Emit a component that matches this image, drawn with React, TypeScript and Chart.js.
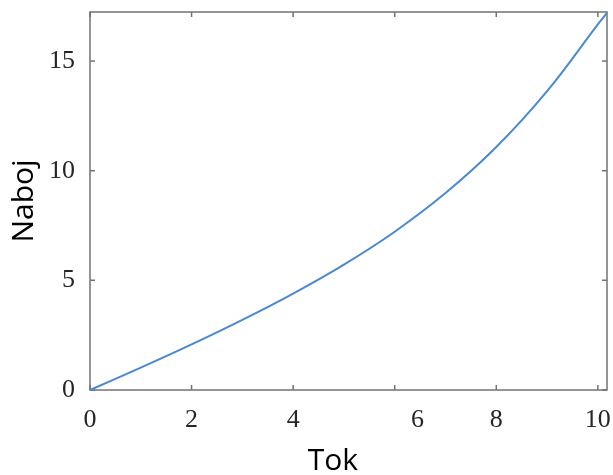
import React, { useEffect, useRef } from 'react';
import { Chart, registerables } from 'chart.js';

Chart.register(...registerables);

// Data
const tokValues = [0, 1, 2, 3, 4, 5, 6, 7, 8, 9, 10, 10.18];
const nabojValues = [0, 1.02, 2.08, 3.2, 4.4, 5.72, 7.22, 8.98, 11.08, 13.63, 16.68, 17.2];
const xTickValues = [0, 2, 4, 6, 8, 10];
const yTickValues = [0, 5, 10, 15];
const xAxisLabel = 'Tok';
const yAxisLabel = 'Naboj';

const AXIS_COLOR = '#737373';
const TICK_TEXT = '#262626';
const LINE_COLOR = '#4a89d0';

const boxTicksPlugin = {
  id: 'boxTicks',
  beforeDatasetsDraw(chart: any) {
    const { ctx, chartArea, scales } = chart;
    const { left, right, top, bottom } = chartArea;
    const len = 5;
    ctx.save();
    ctx.strokeStyle = AXIS_COLOR;
    ctx.lineWidth = 1.5;
    ctx.strokeRect(left, top, right - left, bottom - top);
    ctx.beginPath();
    scales.x.ticks.forEach((t: any) => {
      const px = scales.x.getPixelForValue(t.value);
      ctx.moveTo(px, bottom);
      ctx.lineTo(px, bottom - len);
      ctx.moveTo(px, top);
      ctx.lineTo(px, top + len);
    });
    scales.y.ticks.forEach((t: any) => {
      const py = scales.y.getPixelForValue(t.value);
      ctx.moveTo(left, py);
      ctx.lineTo(left + len, py);
      ctx.moveTo(right, py);
      ctx.lineTo(right - len, py);
    });
    ctx.stroke();
    ctx.restore();
  },
};

export default function App() {
  const canvasRef = useRef<HTMLCanvasElement | null>(null);

  useEffect(() => {
    if (!canvasRef.current) return;
    const chart = new Chart(canvasRef.current, {
      type: 'line',
      data: {
        datasets: [
          {
            data: tokValues.map((x, i) => ({ x, y: nabojValues[i] })),
            borderColor: LINE_COLOR,
            borderWidth: 2,
            pointRadius: 0,
            tension: 0.4,
            fill: false,
            clip: 4,
          },
        ],
      },
      options: {
        animation: false,
        responsive: false,
        layout: { padding: { left: 0, right: 6, top: 12, bottom: 0 } },
        plugins: {
          legend: { display: false },
          tooltip: { enabled: false },
        },
        scales: {
          x: {
            type: 'linear',
            min: 0,
            max: 10.18,
            grid: { display: false, drawTicks: false },
            border: { display: false },
            afterBuildTicks: (s: any) => {
              s.ticks = xTickValues.map((v) => ({ value: v }));
            },
            afterFit: (s: any) => {
              s.height = 85;
              s.paddingLeft = 0;
              s.paddingRight = 0;
            },
            ticks: {
              padding: 15,
              color: TICK_TEXT,
              font: { family: '"Liberation Serif", "Times New Roman", serif', size: 26 },
              maxRotation: 0,
              autoSkip: false,
              callback: (v: any) => (v === 6 ? '       6' : String(v)),
            },
            title: {
              display: true,
              text: xAxisLabel + '    ',
              color: '#000',
              font: { family: '"Open Sans", sans-serif', size: 30 },
              padding: { top: 0, bottom: -4 },
            },
          },
          y: {
            type: 'linear',
            min: 0,
            max: 17.24,
            grid: { display: false, drawTicks: false },
            border: { display: false },
            afterBuildTicks: (s: any) => {
              s.ticks = yTickValues.map((v) => ({ value: v }));
            },
            afterFit: (s: any) => {
              s.width = 90;
              s.paddingTop = 0;
              s.paddingBottom = 0;
            },
            ticks: {
              padding: 15,
              color: TICK_TEXT,
              font: { family: '"Liberation Serif", "Times New Roman", serif', size: 26 },
              autoSkip: false,
              callback: (v: any) => String(v),
            },
            title: {
              display: true,
              text: yAxisLabel,
              color: '#000',
              font: { family: '"Open Sans", sans-serif', size: 30 },
              padding: { top: 6, bottom: 0 },
            },
          },
        },
      },
      plugins: [boxTicksPlugin],
    } as any);
    return () => chart.destroy();
  }, []);

  return (
    <div style={{ position: 'absolute', left: 0, top: 0, width: 613, height: 475 }}>
      <canvas ref={canvasRef} width={613} height={475} style={{ display: 'block' }} />
    </div>
  );
}
